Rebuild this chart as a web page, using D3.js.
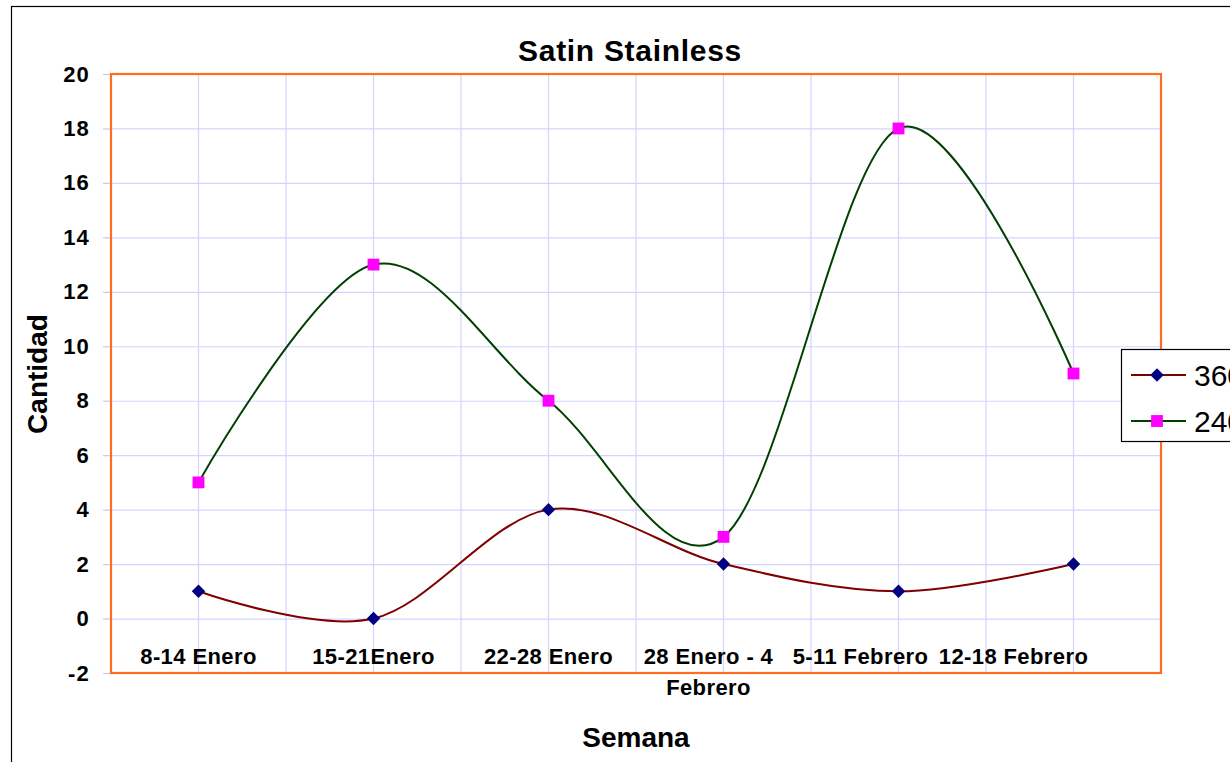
<!DOCTYPE html>
<html>
<head>
<meta charset="utf-8">
<script src="https://cdnjs.cloudflare.com/ajax/libs/d3/7.8.5/d3.min.js"></script>
<style>
  body { margin: 0; background: #fff; }
  text { font-family: "Liberation Sans", Arial, sans-serif; fill: #000; }
</style>
</head>
<body>
<div id="chart"></div>
<script>
// categories (weeks), "\n" marks a wrapped label
var semanas = ["8-14 Enero", "15-21Enero", "22-28 Enero", "28 Enero - 4\nFebrero", "5-11 Febrero", "12-18 Febrero"];
var serieNombres = ["360", "240"];
var valores360 = [1, 0, 4, 2, 1, 2];
var valores240 = [5, 13, 8, 3, 18, 9];
var yDomain = [-2, 20];

var fullWidth = 1230;
var fullHeight = 762;
var margin = {top: 74, left: 111};
var width = 1050;
var height = 599;

var series = [
  {name: serieNombres[0], values: valores360, color: "#800000", marker: "#000080", symbol: d3.symbolDiamond2, msize: 115},
  {name: serieNombres[1], values: valores240, color: "#004000", marker: "#ff00ff", symbol: d3.symbolSquare, msize: 140}
];

var svg = d3.select("#chart").append("svg")
  .attr("width", fullWidth)
  .attr("height", fullHeight);

// outer chart border (runs off the right/bottom)
svg.append("rect")
  .attr("x", 11.5).attr("y", 6.5)
  .attr("width", 1400).attr("height", 900)
  .attr("fill", "none").attr("stroke", "#000").attr("stroke-width", 1.2);

var x = d3.scaleBand().domain(semanas).range([0, width]).padding(0);
var y = d3.scaleLinear().domain(yDomain).range([height, 0]);
var cx = function(i) { return x(semanas[i]) + x.bandwidth() / 2; };

var g = svg.append("g")
  .attr("transform", "translate(" + margin.left + "," + margin.top + ")");

// vertical gridlines at every half category
var vLines = [];
semanas.forEach(function(s) { vLines.push(x(s)); vLines.push(x(s) + x.bandwidth() / 2); });
g.selectAll(".vgrid").data(vLines).enter().append("line")
  .attr("x1", function(d) { return d; }).attr("x2", function(d) { return d; })
  .attr("y1", 0).attr("y2", height)
  .attr("stroke", "#d4d4ff").attr("stroke-width", 1.2);

// horizontal gridlines + y axis
var yTicks = y.ticks(11);
g.append("g")
  .call(d3.axisLeft(y).tickValues(yTicks).tickSize(-width).tickFormat(""))
  .call(function(a) {
    a.select(".domain").remove();
    a.selectAll("line").attr("stroke", "#d4d4ff").attr("stroke-width", 1.2);
  });

g.append("g")
  .call(d3.axisLeft(y).tickValues(yTicks).tickSize(8).tickPadding(13).tickFormat(function(d) { return String(d); }))
  .call(function(a) {
    a.select(".domain").attr("stroke", "#c8c8f0");
    a.selectAll("line").attr("stroke", "#c8c8f0").attr("stroke-width", 1.2);
    a.selectAll("text")
      .style("font-size", "22px").style("font-weight", "bold")
      .style("font-family", "'Liberation Sans', Arial, sans-serif")
      .attr("letter-spacing", "1.2")
      .attr("fill", "#000");
  });

// plot area border
g.append("rect")
  .attr("x", 0).attr("y", 0).attr("width", width).attr("height", height)
  .attr("fill", "none").attr("stroke", "#ff6d1f").attr("stroke-width", 2.2);

// x category labels (Excel nudges the last ones left)
var labelNudge = [0, 0, 0, -15, -38, -60];
var xl = g.append("g").attr("class", "xlabels");
semanas.forEach(function(s, i) {
  var t = xl.append("text")
    .attr("text-anchor", "middle")
    .attr("font-size", 22).attr("font-weight", "bold")
    .attr("letter-spacing", 0.4)
    .attr("y", 590);
  s.split("\n").forEach(function(line, k) {
    t.append("tspan")
      .attr("x", cx(i) + labelNudge[i])
      .attr("dy", k === 0 ? 0 : 31)
      .text(line);
  });
});

// series lines
var line = d3.line()
  .x(function(d, i) { return cx(i); })
  .y(function(d) { return y(d); })
  .curve(d3.curveCardinal.tension(0));

series.forEach(function(s) {
  g.append("path")
    .datum(s.values)
    .attr("d", line)
    .attr("fill", "none")
    .attr("stroke", s.color)
    .attr("stroke-width", 2);
});

series.forEach(function(s) {
  g.selectAll(".m" + s.name).data(s.values).enter().append("path")
    .attr("transform", function(d, i) { return "translate(" + cx(i) + "," + y(d) + ")"; })
    .attr("d", d3.symbol().type(s.symbol).size(s.msize))
    .attr("fill", s.marker);
});

// title and axis titles
svg.append("text")
  .attr("x", 630).attr("y", 61)
  .attr("text-anchor", "middle")
  .attr("font-size", 30).attr("font-weight", "bold").attr("letter-spacing", 0.7)
  .text("Satin Stainless");

svg.append("text")
  .attr("x", 636).attr("y", 747)
  .attr("text-anchor", "middle")
  .attr("font-size", 28).attr("font-weight", "bold")
  .text("Semana");

svg.append("text")
  .attr("transform", "translate(47,374) rotate(-90)")
  .attr("text-anchor", "middle")
  .attr("font-size", 28).attr("font-weight", "bold")
  .text("Cantidad");

// legend (cut off at right edge, as in the original)
var legend = svg.append("g").attr("transform", "translate(1121,349)");
legend.append("rect")
  .attr("x", 0.5).attr("y", 0.5).attr("width", 200).attr("height", 92)
  .attr("fill", "#fff").attr("stroke", "#000").attr("stroke-width", 1.2);

series.forEach(function(s, i) {
  var ly = 26 + i * 46;
  legend.append("line")
    .attr("x1", 10).attr("x2", 65).attr("y1", ly).attr("y2", ly)
    .attr("stroke", s.color).attr("stroke-width", 2);
  legend.append("path")
    .attr("transform", "translate(36," + ly + ")")
    .attr("d", d3.symbol().type(s.symbol).size(s.msize))
    .attr("fill", s.marker);
  legend.append("text")
    .attr("x", 73).attr("y", ly + 11)
    .attr("font-size", 30)
    .text(s.name);
});
</script>
</body>
</html>
